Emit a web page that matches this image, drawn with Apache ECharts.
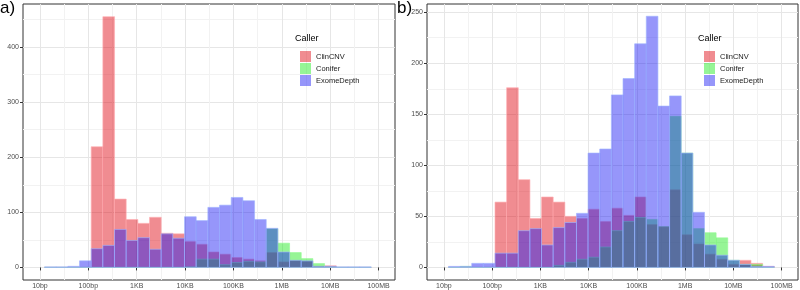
<!DOCTYPE html>
<html>
<head>
<meta charset="utf-8">
<script src="https://cdn.jsdelivr.net/npm/echarts@6/dist/echarts.min.js"></script>
<style>
  html, body { margin: 0; padding: 0; background: #fff; }
  #chart { width: 800px; height: 290px; }
</style>
</head>
<body>
<div id="chart"></div>
<script>
// CNV sizes, 28 bins on a log10(bp) scale
const callers = ["ClinCNV", "Conifer", "ExomeDepth"];
const binStart = 1.095;
const binWidth = 0.2412;

const sizeTicks = [1, 2, 3, 4, 5, 6, 7, 8];
const sizeMinor = [1.5, 2.5, 3.5, 4.5, 5.5, 6.5, 7.5];
const sizeLabels = ["10bp", "100bp", "1KB", "10KB", "100KB", "1MB", "10MB", "100MB"];

// a)
const clinA = [0, 0, 0, 0, 219, 455, 124, 87, 80, 91, 62, 61, 47, 42, 28, 24, 18, 15, 12, 27, 10, 12, 11, 2, 3, 0, 0, 0];
const coniA = [0, 0, 0, 0, 0, 0, 0, 0, 0, 0, 0, 0, 1, 15, 15, 5, 9, 11, 10, 70, 44, 27, 16, 7, 1, 0, 0, 0];
const exomA = [1, 1, 2, 12, 34, 40, 69, 49, 54, 33, 61, 53, 92, 85, 109, 113, 127, 121, 87, 71, 28, 13, 12, 2, 2, 1, 1, 1];
const yTicksA = [0, 100, 200, 300, 400];
const yMinorA = [50, 150, 250, 350, 450];

// b)
const clinB = [0, 0, 0, 0, 64, 176, 86, 48, 69, 64, 50, 48, 57, 45, 58, 51, 69, 42, 40, 76, 32, 23, 13, 8, 3, 7, 4, 1];
const coniB = [0, 1, 0, 0, 0, 0, 0, 0, 0, 2, 5, 8, 10, 20, 36, 45, 49, 47, 40, 148, 112, 38, 34, 29, 7, 3, 3, 0];
const exomB = [1, 1, 4, 4, 14, 14, 36, 38, 22, 39, 44, 53, 112, 116, 169, 185, 219, 246, 158, 168, 112, 54, 22, 12, 7, 3, 1, 1];
const yTicksB = [0, 50, 100, 150, 200, 250];
const yMinorB = [25, 75, 125, 175, 225];

const fills = ["rgba(222,0,12,0.45)", "rgba(22,232,22,0.45)", "rgba(22,22,244,0.45)"];
const strokes = ["rgba(255,175,180,0.9)", "rgba(150,250,150,0.9)", "rgba(160,180,255,0.9)"];

const chart = echarts.init(document.getElementById("chart"), null, { renderer: "canvas" });

function binData(counts) {
  return counts.map((c, i) => [binStart + i * binWidth, binStart + (i + 1) * binWidth, c]);
}

function barSeries(name, k, counts, axisIdx) {
  return {
    name: name,
    type: "custom",
    xAxisIndex: axisIdx,
    yAxisIndex: axisIdx,
    itemStyle: { color: fills[k] },
    data: binData(counts),
    renderItem: function (params, api) {
      const p0 = api.coord([api.value(0), api.value(2)]);
      const p1 = api.coord([api.value(1), 0]);
      return {
        type: "rect",
        shape: { x: p0[0], y: p0[1], width: p1[0] - p0[0], height: p1[1] - p0[1] },
        style: { fill: fills[k], stroke: strokes[k], lineWidth: 0.7 }
      };
    }
  };
}

const font = "Liberation Sans, Arial, sans-serif";

function xAxes(grid) {
  return [
    {
      type: "value", gridIndex: grid, min: 0.65, max: 8.34,
      axisLine: { show: false },
      axisTick: { show: true, length: 3, lineStyle: { color: "#333", width: 1 }, customValues: sizeTicks },
      axisLabel: {
        customValues: sizeTicks, fontSize: 7, color: "#4d4d4d", fontFamily: font, margin: 3,
        formatter: v => sizeLabels[sizeTicks.indexOf(Math.round(v))] || ""
      },
      splitLine: { show: true, lineStyle: { color: "#e6e6e6", width: 1 } }
    },
    {
      type: "value", gridIndex: grid, min: 0.65, max: 8.34,
      axisLine: { show: false },
      axisTick: { show: false, customValues: sizeMinor },
      axisLabel: { show: false, customValues: sizeMinor },
      splitLine: { show: true, lineStyle: { color: "#f2f2f2", width: 1 } }
    }
  ];
}

function yAxes(grid, lo, hi, ticks, minor) {
  return [
    {
      type: "value", gridIndex: grid, min: lo, max: hi,
      axisLine: { show: false },
      axisTick: { show: true, length: 3, lineStyle: { color: "#333", width: 1 }, customValues: ticks },
      axisLabel: { customValues: ticks, fontSize: 7, color: "#4d4d4d", fontFamily: font, margin: 4 },
      splitLine: { show: true, lineStyle: { color: "#e6e6e6", width: 1 } }
    },
    {
      type: "value", gridIndex: grid, min: lo, max: hi,
      axisLine: { show: false },
      axisTick: { show: false, customValues: minor },
      axisLabel: { show: false, customValues: minor },
      splitLine: { show: true, lineStyle: { color: "#f2f2f2", width: 1 } }
    }
  ];
}

function legendAt(left) {
  return {
    orient: "vertical", left: left, top: 46,
    icon: "rect", itemWidth: 11, itemHeight: 11, itemGap: 1,
    data: callers,
    textStyle: { fontSize: 7.5, color: "#1a1a1a", fontFamily: font },
    selectedMode: false
  };
}

chart.setOption({
  animation: false,
  backgroundColor: "#fff",
  title: [
    { text: "a)", left: 0, top: 0, textStyle: { fontSize: 17, fontWeight: "normal", color: "#000", fontFamily: font }, padding: 0 },
    { text: "b)", left: 397, top: 0, textStyle: { fontSize: 17, fontWeight: "normal", color: "#000", fontFamily: font }, padding: 0 },
    { text: "Caller", left: 295, top: 34, textStyle: { fontSize: 9, fontWeight: "normal", color: "#000", fontFamily: font }, padding: 0 },
    { text: "Caller", left: 698, top: 34, textStyle: { fontSize: 9, fontWeight: "normal", color: "#000", fontFamily: font }, padding: 0 }
  ],
  legend: [legendAt(295), legendAt(699)],
  grid: [
    { left: 23, top: 4, width: 372, height: 276, show: true, borderColor: "#333", borderWidth: 1, backgroundColor: "transparent" },
    { left: 427, top: 4, width: 371, height: 276, show: true, borderColor: "#333", borderWidth: 1, backgroundColor: "transparent" }
  ],
  xAxis: xAxes(0).concat(xAxes(1)),
  yAxis: yAxes(0, -22.8, 478, yTicksA, yMinorA).concat(yAxes(1, -12.3, 258, yTicksB, yMinorB)),
  series: [
    barSeries(callers[0], 0, clinA, 0),
    barSeries(callers[1], 1, coniA, 0),
    barSeries(callers[2], 2, exomA, 0),
    barSeries(callers[0], 0, clinB, 2),
    barSeries(callers[1], 1, coniB, 2),
    barSeries(callers[2], 2, exomB, 2)
  ]
});
</script>
</body>
</html>
